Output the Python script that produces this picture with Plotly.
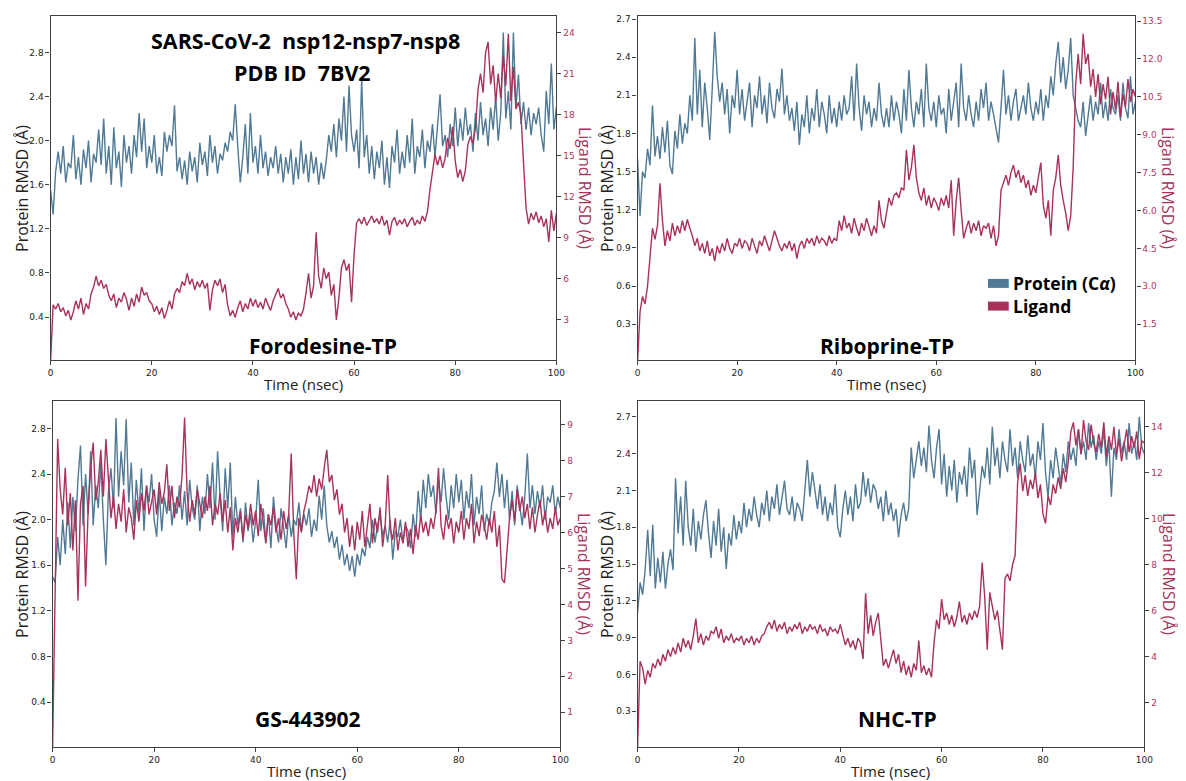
import numpy as np
import plotly.graph_objects as go

# ---------------- data (RMSD, Å) sampled every 0.5 ns ----------------
# Panel 1: Forodesine-TP
foro_protein = [
    1.55, 1.33, 1.72, 1.9, 1.7, 1.95, 1.62, 1.8, 1.75, 2.05, 1.65, 1.85, 1.6, 1.92, 1.75, 2.0, 1.62, 1.88, 1.8, 2.1,
    1.78, 2.2, 1.7, 1.95, 1.6, 2.12, 1.75, 1.9, 1.58, 2.05, 1.8, 1.95, 1.7, 2.05, 1.85, 2.25, 1.9, 2.2, 1.75, 1.95,
    1.8, 2.05, 1.7, 1.85, 1.68, 2.08, 1.9, 2.05, 1.95, 2.32, 1.72, 1.85, 1.65, 1.82, 1.6, 1.9, 1.72, 1.85, 1.62, 1.98,
    1.78, 1.9, 1.68, 2.05, 1.8, 1.95, 1.7, 1.88, 1.82, 1.98, 1.9, 2.08, 2.0, 2.33, 1.95, 1.62, 1.85, 2.15, 1.7, 2.25,
    1.8, 1.95, 1.7, 2.05, 1.75, 1.9, 1.68, 1.85, 1.75, 1.95, 1.7, 1.88, 1.62, 1.85, 1.7, 1.92, 1.6, 1.85, 1.65, 2.0,
    1.7, 1.88, 1.62, 1.9, 1.7, 1.85, 1.6, 1.8, 1.65, 1.82, 2.05, 1.9, 2.15, 1.85, 2.2, 2.0, 2.4, 1.9, 2.5, 2.05,
    1.9, 2.1, 1.75, 2.55, 1.85, 2.05, 1.7, 1.95, 1.65, 1.9, 1.75, 2.0, 1.6, 1.85, 1.57, 1.95, 1.8, 2.1, 1.7, 1.9,
    1.75, 2.05, 1.8, 2.2, 1.7, 1.95, 1.85, 2.1, 1.75, 2.0, 1.9, 2.15, 1.85, 2.1, 2.42, 1.95, 2.05, 1.85, 2.15, 1.95,
    2.3, 1.95, 2.2, 2.0, 2.3, 2.05, 2.15, 1.9, 2.25, 2.0, 2.35, 2.05, 2.2, 1.95, 2.3, 2.1, 2.4, 2.0, 2.25, 2.98,
    2.2, 2.45, 2.1, 2.98, 2.3, 2.6, 2.15, 2.35, 2.1, 2.3, 2.05, 2.25, 2.15, 2.3, 2.05, 1.9, 2.45, 2.15, 2.7, 2.1,
    2.3,
]
foro_ligand = [
    0.0, 4.1, 3.8, 4.2, 3.6, 3.9, 3.3, 3.7, 3.0, 3.6, 4.4, 3.8, 4.6, 3.4, 4.2, 3.8, 4.9, 5.4, 6.2, 5.5,
    5.9, 5.3, 5.6, 4.8, 4.4, 4.9, 3.9, 4.6, 4.3, 5.0, 4.5, 3.7, 4.6, 4.0, 4.9, 4.3, 5.4, 4.8, 5.0, 4.4,
    4.2, 3.6, 4.0, 3.4, 3.9, 3.1, 3.7, 4.4, 3.8, 4.9, 5.3, 5.0, 5.8, 5.5, 6.4, 5.6, 6.0, 5.2, 5.8, 5.4,
    5.9, 5.3, 5.7, 3.7, 5.2, 5.9, 5.5, 6.0, 5.0, 5.6, 4.1, 3.3, 3.7, 3.2, 3.9, 4.4, 3.6, 4.2, 3.8, 4.6,
    4.0, 4.5, 3.9, 4.3, 3.8, 4.6, 4.1, 3.7, 4.4, 4.8, 5.3, 4.6, 4.9, 4.2, 3.8, 3.2, 3.6, 3.0, 3.5, 3.3,
    3.8, 5.0, 6.4, 4.6, 5.5, 9.4, 6.2, 5.3, 6.8, 6.0, 6.5, 4.8, 5.6, 3.0, 4.6, 6.8, 7.4, 6.6, 7.1, 4.3,
    7.8, 10.1, 10.4, 10.0, 10.5, 9.9, 10.3, 10.6, 10.1, 10.4, 10.0, 10.6, 9.9, 10.3, 9.2, 10.2, 10.5, 9.9, 10.3, 10.0,
    10.4, 9.8, 10.2, 10.5, 9.9, 10.3, 10.0, 10.6, 10.2, 10.9, 12.5, 13.8, 15.1, 14.3, 15.0, 14.1, 14.8, 16.3, 15.5, 17.1,
    14.6, 13.4, 14.0, 13.1, 13.9, 15.8, 16.4, 15.9, 17.0, 19.8, 21.0, 19.6, 22.5, 23.3, 20.2, 21.6, 18.9, 21.0, 19.2, 22.3,
    20.1, 23.9, 19.0, 21.5, 18.4, 18.9, 18.0, 14.5, 11.2, 10.0, 10.8, 10.3, 10.9, 10.1, 10.6, 9.8, 10.4, 8.7, 11.0, 9.5,
    10.8,
]

# Panel 2: Riboprine-TP
ribo_protein = [
    1.6, 1.15, 1.5, 1.45, 1.68, 1.55, 2.02, 1.62, 1.78, 1.6, 1.85, 1.65, 1.9, 1.55, 1.48, 1.82, 1.68, 1.95, 1.72, 1.88,
    1.8, 2.1, 1.9, 2.55, 1.95, 2.3, 1.85, 2.2, 2.0, 1.75, 2.15, 2.6, 2.25, 2.05, 2.2, 1.95, 2.15, 1.8, 2.1, 2.0,
    2.3, 1.95, 2.15, 1.9, 2.05, 2.2, 1.85, 2.1, 2.0, 2.25, 1.95, 2.1, 1.88, 2.2, 2.0, 1.92, 2.15, 2.05, 2.31, 1.95,
    2.1, 1.9, 2.0, 1.82, 2.05, 1.71, 1.95, 1.85, 2.1, 1.8, 2.0, 1.9, 2.15, 1.85, 2.05, 1.95, 1.8, 2.1, 1.88, 2.0,
    1.85, 2.05, 1.9, 2.1, 1.95, 2.0, 2.25, 1.9, 2.35, 2.0, 1.82, 2.1, 1.95, 2.05, 1.85, 2.0, 1.9, 2.2, 1.95, 1.85,
    2.0, 1.85, 2.1, 1.9, 2.05, 1.95, 1.8, 2.15, 1.9, 2.3, 2.0, 1.85, 2.05, 1.95, 2.15, 1.85, 2.35, 2.0, 1.9, 2.05,
    1.85, 2.1, 1.95, 2.0, 1.8, 2.15, 1.9, 2.05, 2.2, 1.85, 2.35, 2.0, 1.9, 2.1, 1.95, 1.85, 2.05, 1.9, 2.15, 2.0,
    2.2, 1.9, 2.05, 1.95, 1.85, 1.73, 2.0, 2.3, 1.95, 2.1, 1.9, 2.05, 2.15, 1.9, 2.0, 2.1, 1.95, 2.2, 2.0, 1.9,
    2.05, 1.95, 2.15, 1.9, 2.1, 2.0, 2.25, 2.1, 2.35, 2.52, 2.2, 2.4, 2.15, 2.3, 2.55, 2.1, 2.0, 1.9, 1.85, 2.05,
    1.78, 1.95, 2.1, 1.9, 2.05, 1.95, 2.2, 1.92, 2.05, 1.9, 2.15, 2.0, 1.95, 2.1, 1.9, 2.2, 2.0, 1.92, 2.25, 1.95,
    2.05,
]
ribo_ligand = [
    0.0, 2.0, 2.6, 2.3, 3.0, 4.1, 5.3, 4.86, 5.4, 7.08, 5.6, 4.6, 5.2, 4.8, 5.5, 5.0, 5.4, 5.1, 5.6, 5.2,
    5.65, 5.3, 5.0, 4.6, 4.9, 4.4, 4.7, 4.3, 4.8, 4.2, 4.5, 4.0, 4.6, 4.3, 4.7, 4.4, 4.9, 4.5, 4.3, 4.7,
    4.6, 4.9, 4.5, 4.8, 4.7, 4.4, 4.9, 4.6, 4.3, 4.8, 4.6, 5.0, 4.7, 4.4, 4.8, 5.2, 4.9, 4.6, 4.4, 4.7,
    4.5, 4.8, 4.4, 4.7, 4.1, 4.6, 4.8, 4.5, 4.9, 4.7, 4.9, 4.6, 5.0, 4.7, 4.9, 4.8, 4.6, 5.0, 4.7, 4.9,
    4.8, 5.6, 5.2, 5.8, 5.3, 5.5, 5.1, 5.7, 5.3, 5.0, 5.5, 5.2, 5.7, 5.3, 5.0, 5.4, 5.1, 6.4, 5.6, 5.3,
    6.0, 6.5, 6.2, 6.6, 6.7, 6.5, 6.9, 6.8, 8.4, 7.2, 7.7, 8.6, 7.3, 6.7, 6.4, 6.9, 6.2, 6.6, 6.1, 6.5,
    6.3, 6.0, 6.5, 6.2, 6.6, 6.1, 7.2, 5.0, 6.4, 7.3, 6.0, 4.9, 5.3, 5.6, 5.1, 5.5, 5.2, 5.6, 5.0, 5.4,
    5.3, 5.5, 4.9, 5.4, 4.6, 5.0, 6.8, 7.1, 7.4, 7.0, 7.5, 7.8, 7.3, 7.6, 7.1, 7.4, 6.9, 7.2, 6.6, 7.0,
    6.7, 7.3, 7.9, 6.2, 5.7, 6.4, 5.0, 6.8, 7.3, 8.2, 7.0, 6.4, 5.9, 5.2, 5.8, 7.7, 11.0, 12.2, 11.0, 13.0,
    11.8, 12.2, 10.9, 11.6, 10.5, 11.4, 10.2, 11.0, 10.4, 11.3, 9.8, 10.7, 10.0, 11.1, 9.7, 10.6, 10.1, 11.2, 10.3, 10.8,
    10.5,
]

# Panel 3: GS-443902
gs_protein = [
    1.5, 1.45, 1.85, 1.6, 2.0, 1.7, 2.15, 1.75, 2.2, 1.9, 2.35, 2.65, 1.95, 2.4, 2.05, 2.6, 1.95, 2.3, 2.1, 2.5,
    2.0, 1.6, 2.25, 2.45, 2.1, 2.89, 2.2, 2.6, 2.3, 2.88, 2.15, 2.5, 1.95, 2.35, 2.05, 2.45, 1.9, 2.3, 2.15, 2.4,
    2.0, 1.85, 2.25, 1.9, 2.2, 2.05, 2.3, 1.95, 2.15, 2.05, 2.3, 2.0, 2.25, 1.95, 2.35, 2.1, 2.0, 2.3, 1.9, 2.2,
    2.05, 2.4, 2.1, 2.5, 2.0, 2.6, 2.2, 1.9, 2.45, 2.1, 2.5, 1.85, 2.2, 1.95, 2.1, 1.8, 2.15, 1.9, 2.05, 1.8,
    2.0, 2.35, 1.9, 2.1, 1.8, 2.05, 1.75, 2.2, 1.95, 1.8, 2.1, 1.9, 1.75, 2.05, 1.85, 2.0, 1.95, 2.15, 1.9, 2.05,
    1.95, 2.1, 1.85, 2.0, 1.9, 2.21, 2.0, 2.3, 1.95, 1.8, 1.9, 1.75, 1.85, 1.65, 1.78, 1.6, 1.7, 1.55, 1.68, 1.5,
    1.7, 1.6, 1.75, 1.68, 1.85, 1.75, 2.0, 1.8, 1.95, 2.05, 1.85, 1.95, 1.8, 2.0, 1.65, 1.9, 1.85, 2.0, 1.8, 1.95,
    1.9, 1.75, 2.05, 1.85, 2.25, 2.0, 2.35, 2.1, 2.4, 2.2, 2.3, 2.05, 2.35, 2.15, 2.45, 2.2, 2.0, 2.3, 2.1, 2.4,
    2.15, 2.35, 2.0, 2.25, 2.1, 2.4, 1.95, 2.2, 2.05, 2.3, 1.9, 2.05, 1.95, 2.15, 2.25, 2.5, 2.2, 2.4, 2.1, 2.35,
    2.0, 2.25, 1.95, 2.3, 2.1, 1.95, 2.2, 2.58, 2.1, 2.3, 2.05, 2.25, 2.1, 2.3, 2.0, 2.2, 2.15, 2.3, 2.05, 2.2,
    2.1,
]
gs_ligand = [
    0.0, 5.0, 8.6, 7.2, 6.5, 7.8, 6.2, 7.1, 5.5, 6.9, 4.1, 6.8, 7.3, 4.5, 6.6, 7.8, 8.5, 6.9, 7.4, 8.3,
    7.0, 8.6, 7.6, 6.4, 7.0, 6.1, 6.8, 6.3, 7.2, 6.0, 6.7, 6.4, 5.8, 6.9, 6.3, 7.1, 6.6, 7.3, 6.5, 6.9,
    7.2, 6.5, 7.4, 6.8, 7.1, 7.9, 6.6, 7.3, 6.4, 7.0, 6.7, 7.6, 9.2, 7.1, 6.3, 6.9, 6.5, 7.2, 6.8, 6.4,
    7.0, 6.6, 7.3, 6.2, 6.8, 6.5, 7.1, 6.3, 6.9, 6.0, 6.7, 5.5, 6.4, 6.0, 6.6, 5.8, 6.5, 6.1, 6.8, 6.2,
    6.6, 5.9, 6.8, 6.3, 5.7, 6.5, 6.2, 6.7, 6.0, 6.4, 5.8, 6.6, 6.1, 6.5, 8.2, 6.0, 4.7, 6.4, 6.0, 6.6,
    6.9, 7.3, 7.1, 7.6, 7.0, 7.5, 7.2, 7.8, 8.3, 7.4, 7.6, 6.9, 7.2, 6.5, 6.8, 6.0, 6.4, 5.6, 6.2, 5.5,
    6.3, 5.8, 6.6, 5.6, 6.2, 6.8, 5.7, 6.4, 6.0, 6.7, 5.6, 6.2, 7.6, 6.1, 5.8, 6.4, 5.5, 6.0, 5.7, 6.3,
    5.6, 6.1, 5.4, 6.2, 5.8, 6.5, 6.0, 6.3, 5.9, 6.4, 6.1, 6.6, 7.8, 6.2, 5.8, 6.5, 6.1, 6.4, 5.7, 6.3,
    6.0, 6.6, 5.8, 6.4, 6.1, 6.8, 5.7, 6.3, 5.9, 6.5, 6.2, 5.8, 6.4, 6.0, 6.6, 5.6, 6.2, 4.7, 4.6, 5.5,
    6.4, 6.9, 6.3, 7.2, 6.6, 7.0, 6.4, 6.8, 6.1, 6.7, 6.0, 6.5, 6.9, 6.2, 6.6, 6.0, 6.4, 6.1, 6.7, 6.2,
    6.4,
]

# Panel 4: NHC-TP
nhc_protein = [
    1.1, 1.35, 1.25, 1.45, 1.78, 1.4, 1.82, 1.3, 1.55, 1.35, 1.6, 1.3, 1.5, 1.62, 1.45, 2.2, 1.75, 2.05, 1.65, 2.18,
    1.8, 1.65, 1.95, 1.6, 1.85, 1.7, 1.9, 2.02, 1.75, 1.55, 1.85, 1.65, 1.95, 1.6, 1.8, 1.46, 1.75, 1.65, 1.9, 1.7,
    1.85, 1.75, 2.0, 1.8, 1.95, 1.85, 2.05, 1.9, 1.8, 2.0, 1.9, 2.1, 1.85, 2.05, 1.95, 2.15, 1.9, 2.05, 2.18, 1.95,
    1.9, 2.05, 1.85, 2.0, 1.95, 1.85, 2.1, 2.35, 2.05, 2.25, 2.1, 1.95, 2.15, 1.9, 2.05, 1.85, 2.0, 1.9, 2.15, 1.8,
    1.72, 1.95, 2.1, 1.9, 2.05, 1.85, 2.15, 1.95, 2.0, 2.25, 2.05, 2.2, 2.0, 2.15, 2.1, 1.95, 2.05, 1.85, 2.1, 1.9,
    2.0, 1.85, 1.95, 1.72, 1.9, 2.0, 1.85, 1.95, 2.45, 2.2, 2.35, 2.5, 2.3, 2.45, 2.25, 2.63, 2.35, 2.2, 2.45, 2.6,
    2.15, 2.4, 2.05, 2.3, 2.1, 2.35, 2.0, 2.25, 2.15, 2.3, 2.05, 2.45, 2.2, 2.35, 1.9, 2.1, 2.3, 2.2, 2.45, 2.15,
    2.62, 2.3, 2.45, 2.2, 2.5, 2.35, 2.25, 2.6, 2.3, 2.45, 2.2, 2.5, 2.35, 2.25, 2.55, 2.3, 2.4, 2.2, 2.5, 2.35,
    2.65, 2.25, 2.05, 2.35, 2.2, 2.45, 2.3, 2.15, 2.4, 2.25, 2.5, 2.35, 2.45, 2.3, 2.6, 2.4, 2.5, 2.35, 2.65, 2.45,
    2.55, 2.35, 2.5, 2.4, 2.6, 2.3, 2.5, 2.05, 2.45, 2.35, 2.6, 2.4, 2.5, 2.35, 2.65, 2.4, 2.5, 2.35, 2.7, 2.45,
    2.4,
]
nhc_ligand = [
    0.0, 3.8, 3.5, 2.8, 3.4, 3.1, 3.7, 3.5, 3.9, 3.6, 4.1, 3.8, 4.3, 4.0, 4.4, 4.1, 4.6, 4.2, 4.8, 4.4,
    4.7, 4.3, 4.9, 5.66, 4.6, 5.0, 4.5, 4.9, 4.7, 5.1, 5.0, 5.3, 4.8, 5.2, 4.6, 4.9, 4.7, 5.0, 4.6, 4.8,
    4.7, 4.9, 4.5, 4.8, 4.6, 4.9, 4.5, 4.8, 4.6, 4.9, 5.0, 5.3, 5.5, 5.2, 5.6, 5.1, 5.4, 5.2, 5.5, 5.0,
    5.3, 5.1, 5.4, 5.2, 5.5, 5.0, 5.3, 5.1, 5.4, 5.2, 5.3, 5.0, 5.4, 5.1, 5.2, 4.9, 5.3, 5.1, 5.2, 5.0,
    5.4, 4.9, 4.5, 4.8, 4.4, 4.7, 4.3, 4.8, 4.6, 3.9, 6.76, 5.0, 5.8, 4.9, 5.5, 5.9, 4.8, 3.6, 3.9, 3.5,
    3.9, 4.3, 3.7, 4.1, 3.3, 3.8, 3.2, 3.6, 3.1, 3.7, 3.4, 4.7, 3.3, 3.6, 3.2, 3.5, 3.1, 4.6, 5.6, 5.2,
    6.5, 5.6, 5.9, 5.4, 5.8, 5.3, 5.7, 6.4, 5.5, 5.8, 5.4, 5.9, 5.6, 6.0, 5.7, 6.2, 8.1, 6.6, 4.3, 6.8,
    6.2, 5.6, 6.0, 5.1, 4.3, 7.4, 7.6, 7.3, 8.0, 8.4, 11.6, 12.4, 11.2, 11.9, 11.0, 11.7, 11.3, 12.0, 10.9, 11.5,
    10.2, 9.8, 11.0, 10.6, 11.5, 11.1, 11.8, 11.3, 12.2, 11.6, 12.5, 13.8, 14.2, 13.2, 13.9, 12.8, 14.3, 13.4, 13.0, 14.1,
    13.3, 12.9, 13.7, 13.1, 14.2, 12.7, 13.6, 13.0, 14.0, 12.8, 13.5, 12.5, 13.2, 13.9, 12.9, 13.6, 13.1, 13.8, 12.6, 13.4,
    13.3,
]

panel_names = ["Forodesine-TP", "Riboprine-TP", "GS-443902", "NHC-TP"]
protein_series = [foro_protein, ribo_protein, gs_protein, nhc_protein]
ligand_series = [foro_ligand, ribo_ligand, gs_ligand, nhc_ligand]

time_ticks = [0, 20, 40, 60, 80, 100]
protein_ticks = [
    [0.4, 0.8, 1.2, 1.6, 2.0, 2.4, 2.8],
    [0.3, 0.6, 0.9, 1.2, 1.5, 1.8, 2.1, 2.4, 2.7],
    [0.4, 0.8, 1.2, 1.6, 2.0, 2.4, 2.8],
    [0.3, 0.6, 0.9, 1.2, 1.5, 1.8, 2.1, 2.4, 2.7],
]
ligand_ticks = [
    [3, 6, 9, 12, 15, 18, 21, 24],
    [1.5, 3.0, 4.5, 6.0, 7.5, 9.0, 10.5, 12.0, 13.5],
    [1, 2, 3, 4, 5, 6, 7, 8, 9],
    [2, 4, 6, 8, 10, 12, 14],
]
ligand_tickfmt = ["d", ".1f", "d", "d"]

# ---------------- styling / layout ----------------
OFF = 8                      # the page body adds an 8px margin
W, H = 1186 - OFF, 781 - OFF  # figure size so it fills the window exactly
BLUE = "#50799500"[:7]
RED = "#a8325a"
TICKRED = "#b0365f"
AXC = "#404040"

# plot boxes in window pixels (left, right, top, bottom)
boxes = [
    (48, 559, 14, 359),
    (641, 1144, 14, 359),
    (50, 563, 400, 747),
    (641, 1153, 400, 747),
]
prot_ranges = [[0.01, 3.13], [0.018, 2.724], [0.007, 3.04], [0.007, 2.83]]
lig_ranges = [[0.07, 25.2], [0.08, 13.7], [0.03, 9.66], [0.06, 15.13]]
name_pos = [(323, 345), (893, 345), (308, 719), (904, 719)]
left_title_x = [19, 610, 19, 610]
right_title_x = [588, 1177, 587, 1178]


def px(x):
    return (x - OFF) / W


def py(y):
    return 1 - (y - OFF) / H


fig = go.Figure()
layout = dict(
    width=W, height=H, autosize=False,
    margin=dict(l=0, r=0, t=0, b=0),
    paper_bgcolor="white", plot_bgcolor="white",
    showlegend=False,
    font=dict(family="DejaVu Sans", color="#222"),
)
annotations = []
shapes = []

for k in range(4):
    l, r, t, b = boxes[k]
    xa = "x" if k == 0 else f"x{k+1}"
    ya = "y" if k == 0 else f"y{2*k+1}"
    yb = f"y{2*k+2}"
    n = len(protein_series[k])
    tp = np.linspace(0, 100, n)
    fig.add_trace(go.Scatter(x=tp, y=protein_series[k], mode="lines",
                             line=dict(color=BLUE, width=1.4), xaxis=xa, yaxis=ya,
                             name="Protein (Cα)"))
    m = len(ligand_series[k])
    tl = np.linspace(0, 100, m)
    fig.add_trace(go.Scatter(x=tl, y=ligand_series[k], mode="lines",
                             line=dict(color=RED, width=1.4), xaxis=xa, yaxis=yb,
                             name="Ligand"))
    xkey = "xaxis" if k == 0 else f"xaxis{k+1}"
    ykey = "yaxis" if k == 0 else f"yaxis{2*k+1}"
    y2key = f"yaxis{2*k+2}"
    layout[xkey] = dict(
        domain=[px(l), px(r)], anchor=ya, range=[0, 100], tickvals=time_ticks,
        showline=True, linecolor=AXC, linewidth=1.2, mirror=True,
        ticks="outside", ticklen=4, tickcolor=AXC, tickwidth=1,
        showgrid=False, zeroline=False,
        tickfont=dict(family="DejaVu Sans", size=9, color="#222"),
    )
    layout[ykey] = dict(
        domain=[py(b), py(t)], anchor=xa, range=prot_ranges[k], tickvals=protein_ticks[k],
        tickformat=".1f",
        showline=True, linecolor=AXC, linewidth=1.2,
        ticks="outside", ticklen=4, tickcolor=AXC, tickwidth=1,
        showgrid=False, zeroline=False,
        tickfont=dict(family="DejaVu Sans", size=9, color="#222"),
    )
    layout[y2key] = dict(
        overlaying=ya, side="right", anchor=xa, range=lig_ranges[k],
        tickvals=ligand_ticks[k], tickformat=ligand_tickfmt[k],
        showline=True, linecolor=AXC, linewidth=1.2,
        ticks="outside", ticklen=4, tickcolor=AXC, tickwidth=1,
        showgrid=False, zeroline=False,
        tickfont=dict(family="DejaVu Sans", size=9, color=TICKRED),
    )
    cy = (t + b) / 2
    cx = (l + r) / 2
    annotations.append(dict(text="Protein RMSD (Å)", x=px(left_title_x[k]), y=py(cy), xref="paper", yref="paper",
                            textangle=-90, showarrow=False, xanchor="center", yanchor="middle",
                            font=dict(family="Open Sans", size=16, color="#222")))
    annotations.append(dict(text="Ligand RMSD (Å)", x=px(right_title_x[k]), y=py(cy), xref="paper", yref="paper",
                            textangle=90, showarrow=False, xanchor="center", yanchor="middle",
                            font=dict(family="Open Sans", size=16, color=RED)))
    annotations.append(dict(text="Time (nsec)", x=px(cx), y=py(b + 24), xref="paper", yref="paper",
                            showarrow=False, xanchor="center", yanchor="middle",
                            font=dict(family="Open Sans", size=15, color="#222")))
    nx, ny = name_pos[k]
    annotations.append(dict(text=f"<b>{panel_names[k]}</b>", x=px(nx), y=py(ny), xref="paper", yref="paper",
                            showarrow=False, xanchor="center", yanchor="middle",
                            font=dict(family="Open Sans", size=21, color="black")))

# header text in first panel
annotations.append(dict(text="<b>SARS-CoV-2  nsp12-nsp7-nsp8</b>", x=px(306), y=py(39), xref="paper", yref="paper",
                        showarrow=False, xanchor="center", yanchor="middle",
                        font=dict(family="Open Sans", size=21.5, color="black")))
annotations.append(dict(text="<b>PDB ID  7BV2</b>", x=px(302), y=py(71), xref="paper", yref="paper",
                        showarrow=False, xanchor="center", yanchor="middle",
                        font=dict(family="Open Sans", size=21.5, color="black")))

# legend (in second panel): one text block, two lines, with colour patches
LEG_FS = 17.5
line_gap = 1.3 * LEG_FS
leg_cy = 293.5
row1 = leg_cy - line_gap / 2
row2 = leg_cy + line_gap / 2
shapes.append(dict(type="rect", xref="paper", yref="paper", x0=px(995), x1=px(1016),
                   y0=py(row1 + 4.5), y1=py(row1 - 4.5), fillcolor=BLUE, line=dict(width=0)))
shapes.append(dict(type="rect", xref="paper", yref="paper", x0=px(995), x1=px(1016),
                   y0=py(row2 + 4.5), y1=py(row2 - 4.5), fillcolor=RED, line=dict(width=0)))
annotations.append(dict(text="<b>Protein (C<i>α</i>)</b><br><b>Ligand</b>", x=px(1018), y=py(leg_cy),
                        xref="paper", yref="paper", align="left",
                        showarrow=False, xanchor="left", yanchor="middle",
                        font=dict(family="Open Sans", size=LEG_FS, color="black")))

layout["annotations"] = annotations
layout["shapes"] = shapes
fig.update_layout(**layout)
fig.write_html("out.html")
